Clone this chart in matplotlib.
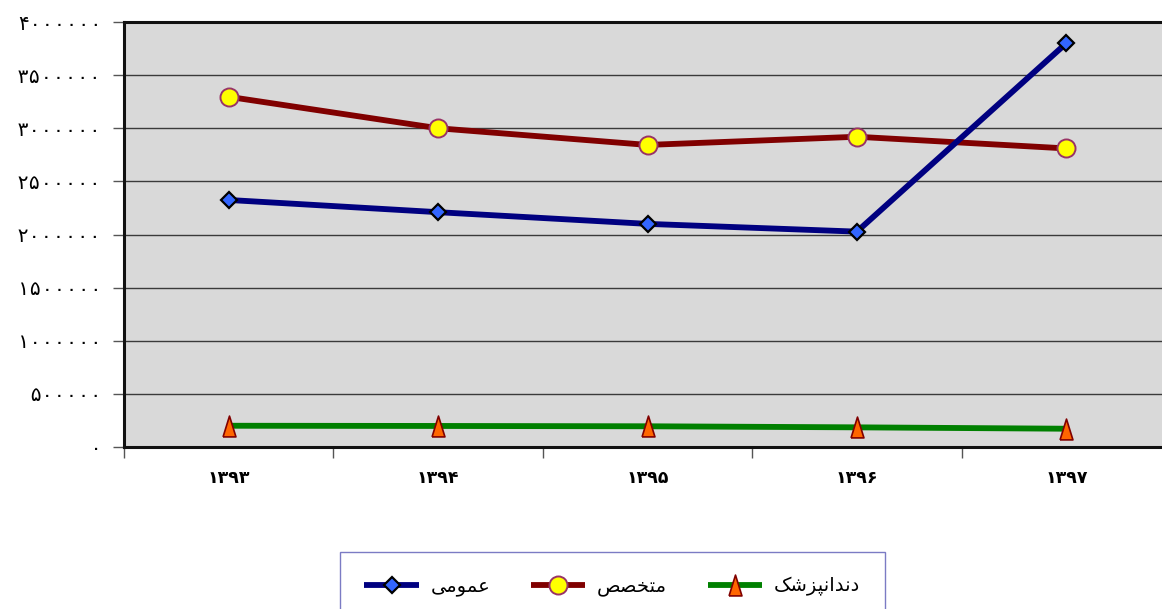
import matplotlib
matplotlib.use("Agg")
import matplotlib.pyplot as plt
from matplotlib.ticker import FixedLocator

# --- data -------------------------------------------------------------
years = ["۱۳۹۳", "۱۳۹۴", "۱۳۹۵", "۱۳۹۶", "۱۳۹۷"]
general = [2325000, 2210000, 2100000, 2027000, 3800000]      # عمومی
specialist = [3296000, 3000000, 2843000, 2920000, 2810000]   # متخصص
dentist = [200000, 198000, 195000, 185000, 172000]           # دندانپزشک
series_names = ["عمومی", "متخصص", "دندانپزشک"]
y_ticks = [0, 500000, 1000000, 1500000, 2000000, 2500000, 3000000, 3500000, 4000000]

# --- minimal Persian shaping (matplotlib has no bidi / joining) -------
FORMS = {
    "ع": ("\uFEC9", "\uFECA", "\uFECB", "\uFECC"),
    "م": ("\uFEE1", "\uFEE2", "\uFEE3", "\uFEE4"),
    "ی": ("\uFBFC", "\uFBFD", "\uFBFE", "\uFBFF"),
    "ت": ("\uFE95", "\uFE96", "\uFE97", "\uFE98"),
    "خ": ("\uFEA5", "\uFEA6", "\uFEA7", "\uFEA8"),
    "ص": ("\uFEB9", "\uFEBA", "\uFEBB", "\uFEBC"),
    "ن": ("\uFEE5", "\uFEE6", "\uFEE7", "\uFEE8"),
    "پ": ("\uFB56", "\uFB57", "\uFB58", "\uFB59"),
    "ش": ("\uFEB5", "\uFEB6", "\uFEB7", "\uFEB8"),
    "ک": ("\uFB8E", "\uFB8F", "\uFB90", "\uFB91"),
    "و": ("\uFEED", "\uFEEE"),
    "د": ("\uFEA9", "\uFEAA"),
    "ا": ("\uFE8D", "\uFE8E"),
    "ز": ("\uFEAF", "\uFEB0"),
}
RIGHT_JOINING = set("وداز")


def shape(word):
    out = []
    n = len(word)
    for i, ch in enumerate(word):
        forms = FORMS.get(ch)
        if forms is None:
            out.append(ch)
            continue
        prev = word[i - 1] if i > 0 else None
        nxt = word[i + 1] if i < n - 1 else None
        join_prev = prev in FORMS and prev not in RIGHT_JOINING
        join_next = nxt in FORMS and ch not in RIGHT_JOINING
        if join_prev and join_next:
            out.append(forms[3])
        elif join_prev:
            out.append(forms[1])
        elif join_next:
            out.append(forms[2])
        else:
            out.append(forms[0])
    return "".join(reversed(out))


PERSIAN_DIGITS = str.maketrans("0123456789", "۰۱۲۳۴۵۶۷۸۹")


def fa_num(v):
    return str(int(v)).translate(PERSIAN_DIGITS)


plt.rcParams["font.family"] = ["DejaVu Sans"]

fig = plt.figure(figsize=(11.62, 6.09), dpi=100)
fig.patch.set_facecolor("white")
ax = fig.add_axes([124 / 1162, 1 - 447 / 609, (1171 - 124) / 1162, (447 - 22) / 609])
ax.set_facecolor("#D9D9D9")

x = list(range(len(years)))

ax.plot(x, general, color="#000080", lw=4.2, marker="D", markersize=8.5,
        markerfacecolor="#3366FF", markeredgecolor="black", markeredgewidth=1.6,
        label=shape(series_names[0]), zorder=4, solid_capstyle="butt")
ax.plot(x, specialist, color="#800000", lw=4.2, marker="o", markersize=13,
        markerfacecolor="#FFFF00", markeredgecolor="#993366", markeredgewidth=1.4,
        label=shape(series_names[1]), zorder=3, solid_capstyle="butt")
tri = [(-0.62, -1.0), (0.62, -1.0), (0.0, 1.0), (-0.62, -1.0)]
ax.plot(x, dentist, color="#008000", lw=4.2, marker=tri, markersize=15,
        markerfacecolor="#FF6600", markeredgecolor="#800000", markeredgewidth=1.2,
        label=shape(series_names[2]), zorder=3, solid_capstyle="butt")

ax.set_xlim(-0.5, len(years) - 0.5)
ax.set_ylim(0, 4000000)

# y axis
ax.yaxis.set_major_locator(FixedLocator(y_ticks))
ax.set_yticklabels([fa_num(v) for v in y_ticks], fontsize=14.5,
                   family=["DejaVu Sans Mono", "DejaVu Sans"])
ax.yaxis.grid(True, color="#3a3a3a", lw=1.0)
ax.set_axisbelow(True)
ax.tick_params(axis="y", direction="out", length=8, width=1, color="#555555", pad=8)

# x axis: labels at category centres, tick marks on category boundaries
ax.set_xticks(x)
ax.set_xticklabels(years, fontsize=12.5, fontweight="bold")
ax.set_xticks([i - 0.5 for i in range(len(years) + 1)], minor=True)
ax.tick_params(axis="x", which="major", length=0, pad=16)
ax.tick_params(axis="x", which="minor", direction="out", length=8, width=1, color="#555555")

for side in ("left", "top", "bottom", "right"):
    ax.spines[side].set_color("#111111")
    ax.spines[side].set_linewidth(2.2)

leg = fig.legend(loc="upper left", bbox_to_anchor=(340 / 1162, 1 - 552 / 609),
                 ncol=3, fontsize=14, frameon=True, fancybox=False,
                 edgecolor="#7B7BC4", facecolor="white", framealpha=1,
                 handlelength=2.8, handletextpad=0.6, columnspacing=2.1,
                 borderpad=1.25, borderaxespad=0)
leg.get_frame().set_linewidth(1.0)

fig.savefig("out.png", dpi=100, facecolor="white")
